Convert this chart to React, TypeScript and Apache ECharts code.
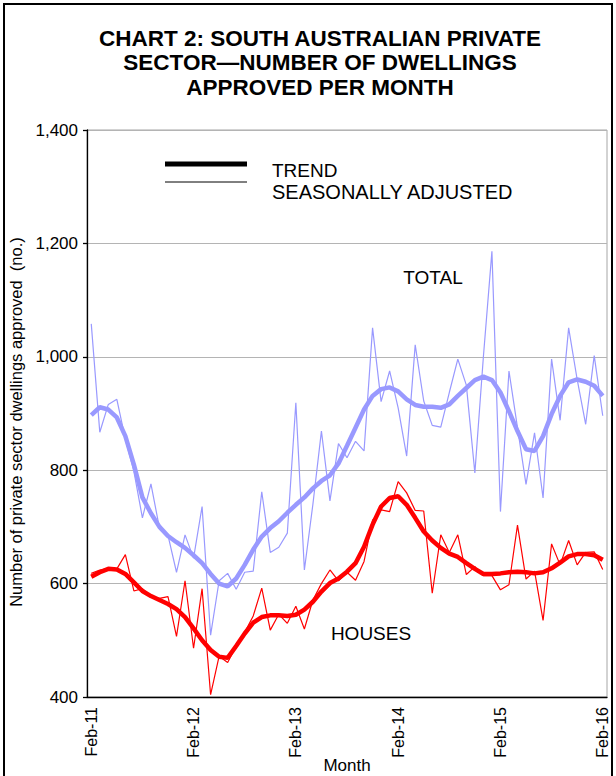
import React, { useEffect, useRef } from "react";
import * as echarts from "echarts";

const MONTH_NAMES = ["Jan", "Feb", "Mar", "Apr", "May", "Jun", "Jul", "Aug", "Sep", "Oct", "Nov", "Dec"];
const START_MONTH = 1; // Feb
const START_YEAR = 11;
const N_MONTHS = 61;

const totalSA = [
  1058, 867, 916, 925, 855, 798, 716, 776, 698, 685,
  620, 686, 645, 736, 509, 605, 618, 590, 620, 622,
  762, 655, 664, 689, 919, 624, 740, 869, 746, 847,
  822, 851, 834, 1051, 921, 975, 910, 825, 1021, 922,
  879, 876, 937, 996, 950, 795, 1000, 1186, 727, 975,
  875, 775, 866, 751, 996, 888, 1051, 960, 881, 1002,
  896,
];

const totalTrend = [
  897, 911, 907, 893, 860, 810, 752, 724, 700, 684,
  673, 663, 650, 636, 617, 600, 595, 609, 633, 660,
  683, 698, 710, 725, 739, 752, 768, 781, 791, 812,
  843, 875, 907, 931, 943, 946, 939, 925, 915, 912,
  912, 910, 916, 931, 945, 959, 965, 959, 937, 904,
  869, 837, 834, 860, 899, 931, 955, 960, 956, 949,
  931,
];

const housesSA = [
  618, 624, 627, 626, 651, 587, 591, 577, 574, 577,
  507, 605, 486, 591, 404, 472, 461, 490, 514, 543,
  592, 518, 546, 530, 560, 520, 571, 600, 624, 605,
  620, 606, 639, 712, 730, 727, 780, 760, 729, 728,
  583, 686, 655, 686, 616, 630, 614, 614, 589, 598,
  703, 608, 622, 535, 670, 633, 676, 633, 655, 656,
  625,
];

const housesTrend = [
  612, 620, 626, 625, 617, 602, 587, 578, 571, 564,
  555, 541, 521, 500, 483, 471, 469, 490, 512, 531,
  541, 544, 544, 543, 545, 554, 568, 586, 601, 609,
  621, 636, 665, 704, 736, 751, 754, 739, 716, 692,
  676, 663, 653, 647, 636, 626, 617, 617, 618, 620,
  621, 620, 618, 620, 627, 637, 648, 652, 652, 650,
  642,
];

const categories: string[] = [];
for (let k = 0; k < N_MONTHS; k++) {
  const m = (START_MONTH + k) % 12;
  const y = START_YEAR + Math.floor((START_MONTH + k) / 12);
  categories.push(`${MONTH_NAMES[m]}-${y}`);
}

const TITLE = "CHART 2: SOUTH AUSTRALIAN PRIVATE\nSECTOR\u2014NUMBER OF DWELLINGS\nAPPROVED PER MONTH";
const Y_NAME = "Number of private sector dwellings approved  (no.)";
const X_NAME = "Month";
const FONT = "'Liberation Sans', Arial, Helvetica, sans-serif";
const TOTAL_COLOR = "#9999FF";
const HOUSES_COLOR = "#FF0000";

export default function App() {
  const ref = useRef<HTMLDivElement>(null);
  useEffect(() => {
    if (!ref.current) return;
    const chart = echarts.init(ref.current, undefined, { renderer: "svg" });
    chart.setOption({
      animation: false,
      backgroundColor: "#ffffff",
      grid: {
        left: 87,
        right: 9,
        top: 130,
        bottom: 79,
        outerBoundsMode: "none",
        containLabel: false,
        show: true,
        borderColor: "#A6A6A6",
        borderWidth: 1,
        backgroundColor: "#ffffff",
      },
      xAxis: {
        type: "category",
        data: categories,
        boundaryGap: true,
        axisLine: { lineStyle: { color: "#000", width: 1.3 } },
        axisTick: { interval: 11, length: 5, lineStyle: { color: "#000", width: 1.3 } },
        axisLabel: {
          interval: 11,
          rotate: 90,
          fontSize: 16,
          color: "#000",
          margin: 10,
          fontFamily: FONT,
        },
        splitLine: { show: false },
        name: X_NAME,
        nameLocation: "middle",
        nameGap: 60,
        nameMoveOverlap: false,
        nameTextStyle: { fontSize: 17, color: "#000", fontFamily: FONT },
      },
      yAxis: {
        type: "value",
        min: 400,
        max: 1400,
        interval: 200,
        axisLine: { show: true, lineStyle: { color: "#000", width: 1.3 } },
        axisTick: { show: true, length: 4, lineStyle: { color: "#000", width: 1.3 } },
        axisLabel: {
          fontSize: 17,
          color: "#000",
          margin: 9,
          fontFamily: FONT,
          formatter: (v: number) => v.toLocaleString("en-US"),
        },
        splitLine: { show: true, lineStyle: { color: "#B4B4B4", width: 1 } },
        name: Y_NAME,
        nameLocation: "middle",
        nameGap: 60,
        nameTextStyle: { fontSize: 16.5, color: "#000", fontFamily: FONT, padding: [0, 17, 0, 0] },
      },
      graphic: [
        {
          type: "rect",
          shape: { x: 4, y: 4, width: 608, height: 800 },
          style: { fill: "none", stroke: "#000", lineWidth: 2 },
          z: 100,
        },
        {
          type: "text",
          x: 320,
          y: 26,
          style: {
            text: TITLE,
            fill: "#000",
            fontSize: 22.5,
            fontWeight: "bold",
            fontFamily: FONT,
            lineHeight: 24.5,
            align: "center",
            verticalAlign: "top",
            textAlign: "center",
            textVerticalAlign: "top",
          },
        },
        {
          type: "line",
          shape: { x1: 165, y1: 164, x2: 247, y2: 164 },
          style: { stroke: "#000", lineWidth: 5 },
        },
        {
          type: "line",
          shape: { x1: 165, y1: 182, x2: 247, y2: 182 },
          style: { stroke: "#000", lineWidth: 1 },
        },
        {
          type: "text",
          x: 272,
          y: 170,
          style: {
            text: "TREND",
            fill: "#000",
            fontSize: 19,
            fontFamily: FONT,
            align: "left",
            verticalAlign: "middle",
            textAlign: "left",
            textVerticalAlign: "middle",
          },
        },
        {
          type: "text",
          x: 272,
          y: 192,
          style: {
            text: "SEASONALLY ADJUSTED",
            fill: "#000",
            fontSize: 20,
            fontFamily: FONT,
            align: "left",
            verticalAlign: "middle",
            textAlign: "left",
            textVerticalAlign: "middle",
          },
        },
        {
          type: "text",
          x: 433,
          y: 277,
          style: {
            text: "TOTAL",
            fill: "#000",
            fontSize: 19,
            fontFamily: FONT,
            align: "center",
            verticalAlign: "middle",
            textAlign: "center",
            textVerticalAlign: "middle",
          },
        },
        {
          type: "text",
          x: 371,
          y: 633,
          style: {
            text: "HOUSES",
            fill: "#000",
            fontSize: 19,
            fontFamily: FONT,
            align: "center",
            verticalAlign: "middle",
            textAlign: "center",
            textVerticalAlign: "middle",
          },
        },
      ],
      series: [
        {
          name: "Total SA",
          type: "line",
          data: totalSA,
          showSymbol: false,
          lineStyle: { color: TOTAL_COLOR, width: 1.2 },
          itemStyle: { color: TOTAL_COLOR },
        },
        {
          name: "Total trend",
          type: "line",
          data: totalTrend,
          showSymbol: false,
          lineStyle: { color: TOTAL_COLOR, width: 4.5 },
          itemStyle: { color: TOTAL_COLOR },
        },
        {
          name: "Houses SA",
          type: "line",
          data: housesSA,
          showSymbol: false,
          lineStyle: { color: HOUSES_COLOR, width: 1.2 },
          itemStyle: { color: HOUSES_COLOR },
        },
        {
          name: "Houses trend",
          type: "line",
          data: housesTrend,
          showSymbol: false,
          lineStyle: { color: HOUSES_COLOR, width: 4.5 },
          itemStyle: { color: HOUSES_COLOR },
        },
      ],
    });
    return () => chart.dispose();
  }, []);
  return (
    <div
      ref={ref}
      style={{ position: "absolute", left: 0, top: 0, width: 616, height: 776, background: "#fff" }}
    />
  );
}
